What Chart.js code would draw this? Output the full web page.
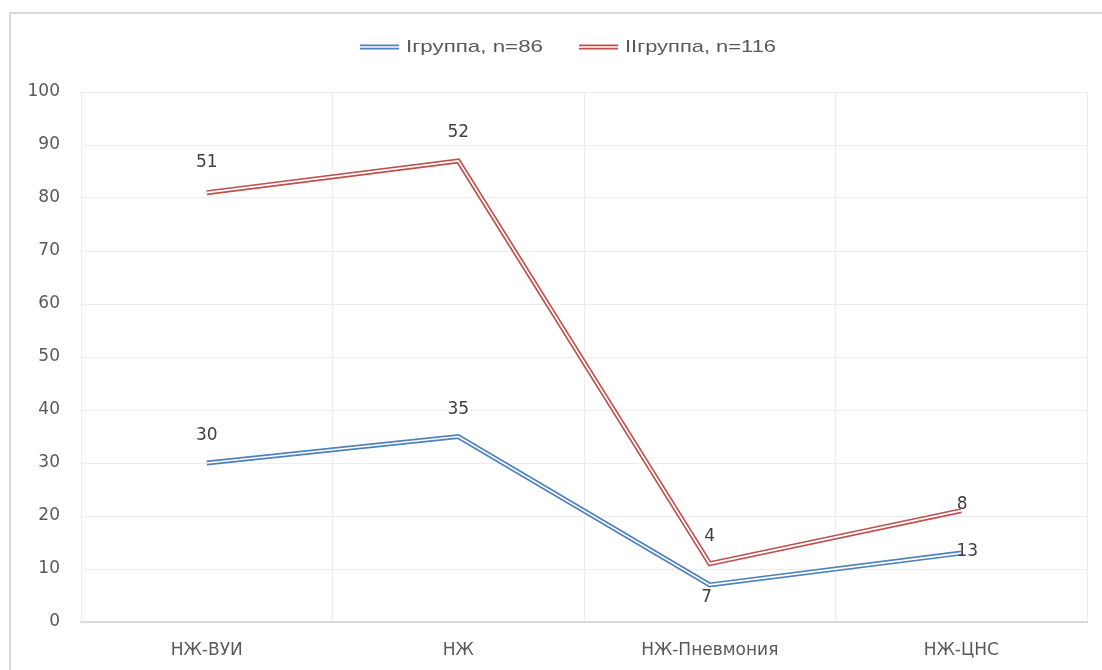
<!DOCTYPE html>
<html>
<head>
<meta charset="utf-8">
<script src="https://cdn.jsdelivr.net/npm/chart.js@4/dist/chart.umd.min.js"></script>
<style>
  html, body { margin: 0; padding: 0; background: #ffffff; overflow: hidden; }
  #wrap { width: 1102px; height: 670px; }
  canvas { display: block; }
</style>
</head>
<body>
<div id="wrap"><canvas id="chart" width="1102" height="670"></canvas></div>
<script>
// Categories and series values (II group is stacked on top of I group)
const categories = ['НЖ-ВУИ', 'НЖ', 'НЖ-Пневмония', 'НЖ-ЦНС'];
const group1 = [30, 35, 7, 13];
const group2 = [51, 52, 4, 8];
const seriesNames = ['Iгруппа, n=86', 'IIгруппа, n=116'];
const seriesColors = ['#4F81BD', '#C0504D'];
const yMin = 0, yMax = 100, yStep = 10;

// Where each value label sits relative to its point (dx, dy in px)
const labelOffsets = [
  [[0, -27], [0, -27], [-3, 13], [6, -2]],
  [[0, -30], [0, -28], [0, -27], [1, -6]]
];

const tickFont = { family: 'DejaVu Sans', size: 17 };

// Outer frame of the chart (top and left edges; the rest runs off the page)
const framePlugin = {
  id: 'frame',
  beforeDraw(chart) {
    const ctx = chart.ctx;
    ctx.save();
    ctx.fillStyle = '#ffffff';
    ctx.fillRect(0, 0, chart.width, chart.height);
    ctx.strokeStyle = '#d9d9d9';
    ctx.lineWidth = 2;
    ctx.beginPath();
    ctx.moveTo(10, chart.height);
    ctx.lineTo(10, 13);
    ctx.lineTo(chart.width, 13);
    ctx.stroke();
    ctx.restore();
  }
};

// Compound (double) line: white core stroked over each thick line
const doubleLinePlugin = {
  id: 'doubleLine',
  afterDatasetDraw(chart, args) {
    const pts = args.meta.data;
    if (!pts.length) return;
    const ctx = chart.ctx;
    ctx.save();
    ctx.beginPath();
    pts.forEach((p, i) => i ? ctx.lineTo(p.x, p.y) : ctx.moveTo(p.x, p.y));
    ctx.strokeStyle = '#ffffff';
    ctx.lineWidth = 1.7;
    ctx.lineJoin = 'miter';
    ctx.stroke();
    ctx.restore();
  }
};

// Value labels next to points
const valueLabelPlugin = {
  id: 'valueLabels',
  afterDatasetsDraw(chart) {
    const ctx = chart.ctx;
    ctx.save();
    ctx.font = '17px "DejaVu Sans"';
    ctx.fillStyle = '#404040';
    ctx.textAlign = 'center';
    ctx.textBaseline = 'middle';
    chart.data.datasets.forEach((ds, di) => {
      const meta = chart.getDatasetMeta(di);
      meta.data.forEach((p, i) => {
        const off = labelOffsets[di][i];
        ctx.fillText(String(ds.data[i]), p.x + off[0], p.y + off[1]);
      });
    });
    ctx.restore();
  }
};

// Legend with double-line swatches
const legendPlugin = {
  id: 'doubleLegend',
  afterDraw(chart) {
    const ctx = chart.ctx;
    const items = [
      { x0: 360, x1: 399, tx: 406, tw: 137 },
      { x0: 579, x1: 618, tx: 625, tw: 151 }
    ];
    const y = 47;
    ctx.save();
    items.forEach((it, i) => {
      ctx.beginPath();
      ctx.moveTo(it.x0, y);
      ctx.lineTo(it.x1, y);
      ctx.strokeStyle = seriesColors[i];
      ctx.lineWidth = 5;
      ctx.stroke();
      ctx.beginPath();
      ctx.moveTo(it.x0 - 1, y);
      ctx.lineTo(it.x1 + 1, y);
      ctx.strokeStyle = '#ffffff';
      ctx.lineWidth = 1.7;
      ctx.stroke();

      ctx.font = '17px "Liberation Sans"';
      ctx.fillStyle = '#595959';
      ctx.textBaseline = 'middle';
      ctx.textAlign = 'left';
      const w = ctx.measureText(seriesNames[i]).width;
      ctx.save();
      ctx.translate(it.tx, y);
      ctx.scale(it.tw / w, 1);
      ctx.fillText(seriesNames[i], 0, 0);
      ctx.restore();
    });
    ctx.restore();
  }
};

new Chart(document.getElementById('chart'), {
  type: 'line',
  data: {
    labels: categories,
    datasets: [
      { label: seriesNames[0], data: group1, borderColor: seriesColors[0] },
      { label: seriesNames[1], data: group2, borderColor: seriesColors[1] }
    ].map(d => Object.assign(d, {
      borderWidth: 5,
      fill: false,
      tension: 0,
      pointRadius: 0,
      pointHoverRadius: 0,
      borderJoinStyle: 'miter',
      borderCapStyle: 'butt'
    }))
  },
  options: {
    responsive: false,
    animation: false,
    events: [],
    layout: { padding: { left: 0, right: 15, top: 92, bottom: 0 } },
    plugins: {
      legend: { display: false },
      tooltip: { enabled: false }
    },
    scales: {
      x: {
        offset: true,
        grid: { offset: true, color: '#ededed', lineWidth: 1, drawTicks: false },
        border: { color: '#d9d9d9', width: 2 },
        ticks: { font: tickFont, color: '#595959', padding: 18 },
        afterFit(scale) { scale.height = 48; }
      },
      y: {
        stacked: true,
        min: yMin,
        max: yMax,
        grid: { color: '#ededed', lineWidth: 1, drawTicks: false },
        border: { display: true, color: '#ededed' },
        ticks: { stepSize: yStep, font: tickFont, color: '#595959', padding: 21 },
        afterFit(scale) { scale.width = 81; }
      }
    }
  },
  plugins: [framePlugin, doubleLinePlugin, valueLabelPlugin, legendPlugin]
});
</script>
</body>
</html>
